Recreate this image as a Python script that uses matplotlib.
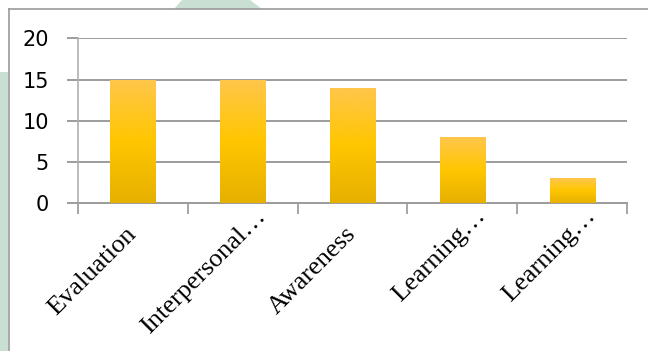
import matplotlib
matplotlib.use("Agg")
import matplotlib.pyplot as plt
import matplotlib.transforms as mtransforms
import numpy as np
from matplotlib.patches import Polygon, Rectangle

# chart data
categories = ["Evaluation", "Interpersonal\u2026", "Awareness", "Learning\u2026", "Learning\u2026"]
values = [15, 15, 14, 8, 3]
y_ticks = [0, 5, 10, 15, 20]

W, H = 648, 351
fig = plt.figure(figsize=(W / 100, H / 100), dpi=100)
fig.patch.set_facecolor("white")

# light green shapes behind the chart frame
green = "#cadfd4"
fig.patches.append(Rectangle((0, 0), 7.5 / W, 1 - 72 / H, transform=fig.transFigure,
                             facecolor=green, edgecolor="none", zorder=0))
fig.patches.append(Polygon([(182 / W, 1), (250 / W, 1), (262 / W, 1 - 9 / H), (174 / W, 1 - 9 / H)],
                           closed=True, transform=fig.transFigure,
                           facecolor=green, edgecolor="none", zorder=0))
# chart frame (left + top edges visible)
fig.add_artist(plt.Line2D([8.5 / W, 8.5 / W], [0, 1 - 9 / H], transform=fig.transFigure,
                          color="#9a9a9a", lw=1.2))
fig.add_artist(plt.Line2D([8.5 / W, 1], [1 - 9 / H, 1 - 9 / H], transform=fig.transFigure,
                          color="#9a9a9a", lw=1.2))

ax = fig.add_axes([78 / W, 1 - 203 / H, (627 - 78) / W, (203 - 38.5) / H])
ax.set_facecolor("none")

x = np.arange(len(categories))
bars = ax.bar(x, values, width=0.41, color="#ffc600", edgecolor="none", zorder=3)

# vertical gradient inside each bar
grad = np.linspace(0, 1, 256).reshape(-1, 1)
cmap = matplotlib.colors.LinearSegmentedColormap.from_list(
    "gold", [(0.0, "#e6b000"), (0.5, "#ffc600"), (1.0, "#ffc64c")])
for b in bars:
    x0, w, h = b.get_x(), b.get_width(), b.get_height()
    im = ax.imshow(grad, cmap=cmap, origin="lower", aspect="auto",
                   extent=[x0, x0 + w, 0, h], zorder=4)
    im.set_clip_path(b)

ax.set_xlim(-0.5, len(categories) - 0.5)
ax.set_ylim(0, 20)
ax.set_yticks(y_ticks)
ax.set_yticklabels([str(t) for t in y_ticks], fontsize=15, family="DejaVu Sans")
ax.tick_params(axis="y", length=8, width=1.4, color="#9c9c9c", pad=13)
ax.yaxis.grid(True, color="#9c9c9c", lw=1.4, zorder=1)

# category labels at bar centres, tick marks between categories
ax.set_xticks(x)
ax.set_xticklabels(categories, rotation=45, ha="right", va="center",
                   rotation_mode="anchor", fontsize=19, family="Liberation Serif")
ax.tick_params(axis="x", length=0, pad=20)
ax.set_xticks(np.arange(-0.5, len(categories), 1), minor=True)
ax.tick_params(axis="x", which="minor", length=8, width=1.4, color="#a6a6a6")

# truncated labels sit a bit further along their direction
shift = mtransforms.ScaledTranslation(20 / 100, 18 / 100, fig.dpi_scale_trans)
for lbl in ax.get_xticklabels():
    if lbl.get_text().endswith("\u2026"):
        lbl.set_transform(lbl.get_transform() + shift)

for s in ["top", "right"]:
    ax.spines[s].set_visible(False)
ax.spines["left"].set_color("#b0b0b0")
ax.spines["left"].set_linewidth(1.2)
ax.spines["bottom"].set_color("#9c9c9c")
ax.spines["bottom"].set_linewidth(1.4)
ax.set_axisbelow(True)

fig.savefig("out.png", dpi=100)
